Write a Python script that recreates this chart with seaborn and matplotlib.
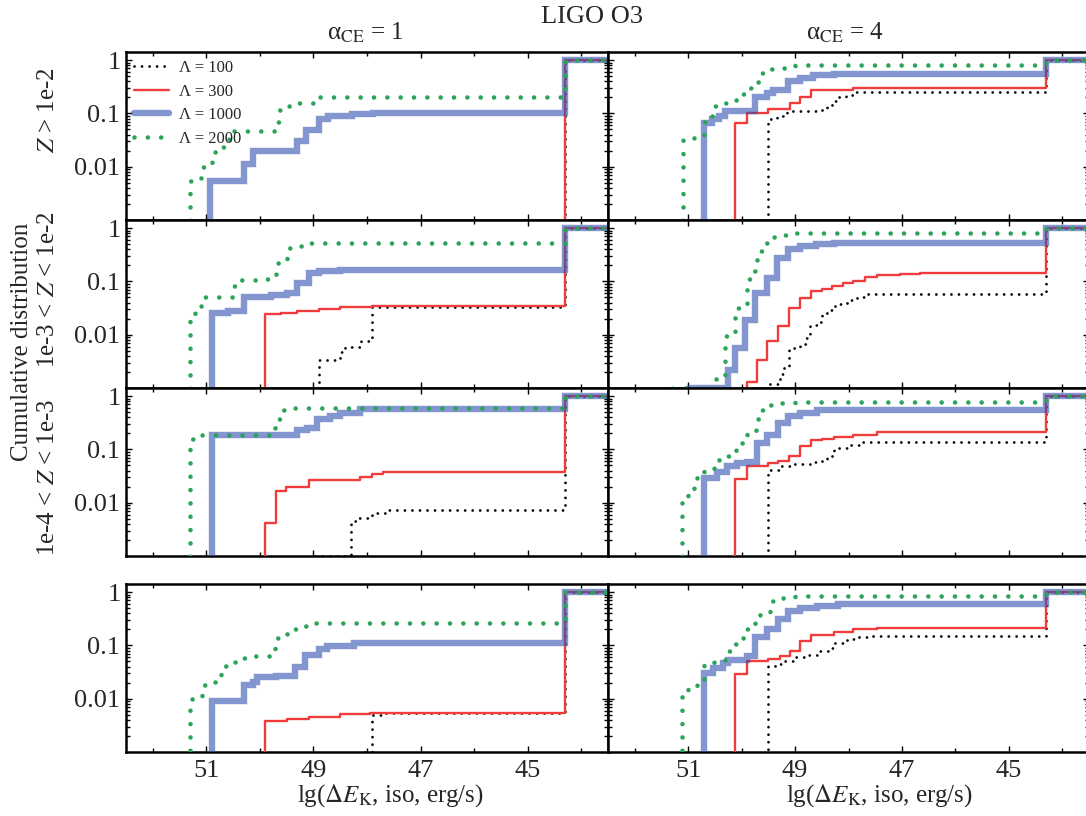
import numpy as np
import matplotlib
matplotlib.use("Agg")
import matplotlib.pyplot as plt
from matplotlib.ticker import LogLocator, NullFormatter
import seaborn as sns

# ---------------- data (step thresholds in lg dE and cumulative values) -------------
lambdas = [100, 300, 1000, 2000]
legend_labels = ["Λ = 100", "Λ = 300", "Λ = 1000", "Λ = 2000"]
col_titles = [r"α$_{\rm CE}$ = 1", r"α$_{\rm CE}$ = 4"]
row_labels = [r"$Z$ > 1e-2", r"1e-3 < $Z$ < 1e-2", r"1e-4 < $Z$ < 1e-3", ""]
xtick_vals = [51, 49, 47, 45]
ytick_vals = [0.01, 0.1, 1]
ytick_text = ["0.01", "0.1", "1"]

# Row 1 : Z > 1e-2
a1_z1_L100_x = [44.30]
a1_z1_L100_y = [1.0]
a1_z1_L300_x = [44.30]
a1_z1_L300_y = [1.0]
a1_z1_L1000_x = [50.93, 50.30, 50.12, 49.31, 49.13, 48.90, 48.72, 48.28, 47.88, 44.30]
a1_z1_L1000_y = [0.0055, 0.0112, 0.020, 0.030, 0.049, 0.078, 0.090, 0.099, 0.104, 1.0]
a1_z1_L2000_x = [51.31, 51.10, 50.90, 50.72, 50.58, 49.72, 49.65, 49.50, 49.30, 48.95, 44.30]
a1_z1_L2000_y = [0.0055, 0.010, 0.019, 0.023, 0.046, 0.070, 0.115, 0.135, 0.160, 0.200, 1.0]

a4_z1_L100_x = [49.50, 49.34, 49.16, 48.60, 48.41, 48.30, 48.20, 48.05, 47.88, 44.30]
a4_z1_L100_y = [0.078, 0.090, 0.110, 0.118, 0.130, 0.170, 0.205, 0.225, 0.253, 1.0]
a4_z1_L300_x = [50.12, 49.90, 49.50, 49.09, 48.91, 48.71, 48.28, 47.91, 44.30]
a4_z1_L300_y = [0.065, 0.103, 0.120, 0.160, 0.200, 0.270, 0.280, 0.300, 1.0]
a4_z1_L1000_x = [50.70, 50.56, 50.43, 50.31, 49.75, 49.53, 49.41, 49.13, 48.91, 48.66, 48.28, 44.30]
a4_z1_L1000_y = [0.065, 0.078, 0.090, 0.110, 0.200, 0.245, 0.280, 0.400, 0.470, 0.525, 0.555, 1.0]
a4_z1_L2000_x = [51.10, 50.90, 50.71, 50.56, 50.51, 50.31, 50.10, 49.98, 49.90, 49.72, 49.64, 49.47, 49.25, 49.00, 44.30]
a4_z1_L2000_y = [0.035, 0.040, 0.070, 0.090, 0.138, 0.160, 0.177, 0.228, 0.300, 0.390, 0.580, 0.670, 0.720, 0.800, 1.0]

# Row 2 : 1e-3 < Z < 1e-2
a1_z2_L100_x = [48.90, 48.60, 48.50, 48.42, 48.12, 47.91, 44.30]
a1_z2_L100_y = [0.0034, 0.0037, 0.0048, 0.0060, 0.0075, 0.033, 1.0]
a1_z2_L300_x = [49.90, 49.60, 49.31, 48.90, 48.50, 47.91, 44.30]
a1_z2_L300_y = [0.0245, 0.026, 0.0274, 0.030, 0.033, 0.035, 1.0]
a1_z2_L1000_x = [50.89, 50.60, 50.30, 49.80, 49.50, 49.31, 49.09, 48.90, 48.50, 44.30]
a1_z2_L1000_y = [0.0253, 0.028, 0.052, 0.056, 0.060, 0.093, 0.146, 0.158, 0.164, 1.0]
a1_z2_L2000_x = [51.31, 51.22, 51.10, 51.04, 50.50, 50.38, 49.90, 49.70, 49.49, 49.30, 49.10, 44.30]
a1_z2_L2000_y = [0.0178, 0.0253, 0.034, 0.052, 0.082, 0.107, 0.113, 0.218, 0.420, 0.467, 0.530, 1.0]

a4_z2_L100_x = [49.50, 49.28, 49.23, 49.11, 48.91, 48.80, 48.72, 48.56, 48.50, 48.41, 48.25, 48.03, 47.85, 47.70, 44.30]
a4_z2_L100_y = [0.0012, 0.0018, 0.0024, 0.0056, 0.0068, 0.0087, 0.0154, 0.017, 0.0253, 0.029, 0.038, 0.045, 0.052, 0.058, 1.0]
a4_z2_L300_x = [49.90, 49.72, 49.53, 49.31, 49.11, 48.91, 48.71, 48.50, 48.31, 48.10, 47.91, 47.69, 47.47, 47.04, 46.66, 44.30]
a4_z2_L300_y = [0.0013, 0.0033, 0.0075, 0.0147, 0.0316, 0.049, 0.065, 0.071, 0.082, 0.095, 0.104, 0.120, 0.130, 0.138, 0.142, 1.0]
a4_z2_L1000_x = [50.96, 50.25, 50.12, 49.93, 49.75, 49.53, 49.34, 49.13, 48.91, 48.60, 48.28, 44.30]
a4_z2_L1000_y = [0.00102, 0.0022, 0.0056, 0.019, 0.060, 0.115, 0.270, 0.400, 0.460, 0.500, 0.530, 1.0]
a4_z2_L2000_x = [51.30, 50.51, 50.31, 50.12, 49.90, 49.81, 49.72, 49.60, 49.47, 49.25, 49.00, 44.30]
a4_z2_L2000_y = [0.00102, 0.0015, 0.0093, 0.032, 0.110, 0.160, 0.380, 0.530, 0.670, 0.740, 0.800, 1.0]

# Row 3 : 1e-4 < Z < 1e-3
a1_z3_L100_x = [49.09, 48.30, 48.19, 47.91, 47.63, 44.30]
a1_z3_L100_y = [0.00102, 0.0045, 0.0052, 0.0064, 0.0074, 1.0]
a1_z3_L300_x = [49.90, 49.69, 49.51, 49.09, 48.13, 47.91, 47.70, 44.30]
a1_z3_L300_y = [0.0041, 0.0163, 0.020, 0.027, 0.031, 0.034, 0.0385, 1.0]
a1_z3_L1000_x = [50.89, 49.31, 49.12, 48.93, 48.69, 48.50, 48.13, 44.30]
a1_z3_L1000_y = [0.190, 0.230, 0.250, 0.380, 0.420, 0.475, 0.565, 1.0]
a1_z3_L2000_x = [51.31, 51.11, 49.71, 49.62, 49.40, 44.30]
a1_z3_L2000_y = [0.160, 0.187, 0.380, 0.550, 0.600, 1.0]

a4_z3_L100_x = [49.50, 49.28, 49.09, 48.66, 48.50, 48.40, 48.28, 48.03, 47.72, 44.30]
a4_z3_L100_y = [0.041, 0.048, 0.053, 0.059, 0.066, 0.076, 0.105, 0.121, 0.138, 1.0]
a4_z3_L300_x = [50.12, 49.90, 49.50, 49.31, 49.11, 48.91, 48.71, 48.50, 48.28, 47.91, 47.47, 44.30]
a4_z3_L300_y = [0.028, 0.049, 0.055, 0.061, 0.076, 0.116, 0.150, 0.160, 0.174, 0.190, 0.210, 1.0]
a4_z3_L1000_x = [50.70, 50.46, 50.28, 50.09, 49.90, 49.72, 49.53, 49.31, 49.13, 48.91, 48.59, 44.30]
a4_z3_L1000_y = [0.029, 0.0385, 0.048, 0.055, 0.059, 0.130, 0.187, 0.310, 0.420, 0.475, 0.540, 1.0]
a4_z3_L2000_x = [51.12, 51.01, 50.90, 50.83, 50.70, 50.51, 50.43, 50.25, 50.10, 50.00, 49.90, 49.78, 49.73, 49.62, 49.47, 49.25, 49.00, 44.30]
a4_z3_L2000_y = [0.011, 0.0156, 0.021, 0.031, 0.040, 0.047, 0.066, 0.076, 0.100, 0.134, 0.195, 0.225, 0.380, 0.550, 0.680, 0.730, 0.780, 1.0]

# Row 4
a1_z4_L100_x = [48.10, 47.91, 47.65, 44.30]
a1_z4_L100_y = [0.00102, 0.0050, 0.0053, 1.0]
a1_z4_L300_x = [49.90, 49.50, 49.09, 48.50, 47.94, 44.30]
a1_z4_L300_y = [0.0038, 0.0042, 0.0046, 0.0052, 0.0055, 1.0]
a1_z4_L1000_x = [50.89, 50.30, 50.12, 50.05, 49.70, 49.34, 49.15, 48.90, 48.75, 48.25, 44.30]
a1_z4_L1000_y = [0.0089, 0.0178, 0.0205, 0.0254, 0.027, 0.039, 0.066, 0.086, 0.097, 0.112, 1.0]
a1_z4_L2000_x = [51.30, 51.08, 50.89, 50.73, 50.52, 50.33, 50.12, 49.71, 49.49, 49.22, 49.00, 44.30]
a1_z4_L2000_y = [0.0097, 0.0178, 0.0205, 0.041, 0.049, 0.057, 0.064, 0.136, 0.200, 0.230, 0.263, 1.0]

a4_z4_L100_x = [49.50, 49.37, 49.25, 49.03, 48.78, 48.53, 48.38, 48.28, 48.03, 47.85, 47.60, 44.30]
a4_z4_L100_y = [0.041, 0.045, 0.052, 0.060, 0.066, 0.077, 0.089, 0.111, 0.132, 0.146, 0.148, 1.0]
a4_z4_L300_x = [50.12, 49.90, 49.50, 49.28, 49.09, 48.91, 48.71, 48.28, 47.91, 47.47, 44.30]
a4_z4_L300_y = [0.029, 0.050, 0.056, 0.063, 0.080, 0.123, 0.157, 0.180, 0.200, 0.216, 1.0]
a4_z4_L1000_x = [50.70, 50.53, 50.34, 50.25, 49.90, 49.75, 49.53, 49.31, 49.13, 48.91, 48.59, 48.20, 44.30]
a4_z4_L1000_y = [0.0306, 0.0375, 0.047, 0.054, 0.063, 0.142, 0.200, 0.310, 0.450, 0.500, 0.555, 0.600, 1.0]
a4_z4_L2000_x = [51.12, 51.01, 50.84, 50.70, 50.51, 50.31, 50.12, 49.98, 49.92, 49.75, 49.65, 49.47, 49.25, 49.00, 44.30]
a4_z4_L2000_y = [0.0115, 0.0166, 0.0235, 0.042, 0.052, 0.080, 0.107, 0.136, 0.200, 0.310, 0.420, 0.690, 0.760, 0.830, 1.0]

X_MIN, X_MAX = 52.5, 43.5
Y_MIN, Y_MAX = 1e-3, 1.42

# ---------------- figure ----------------
sns.set_theme(style="ticks")
plt.rcParams["font.family"] = ["Liberation Serif", "DejaVu Serif"]
plt.rcParams["mathtext.fontset"] = "stix"

W, H = 1086, 816
fig = plt.figure(figsize=(W / 100, H / 100), dpi=100)

col_px = [(126, 482), (608, 481)]
row_top_px = [52, 220, 388, 584]
row_h_px = 168

styles = {
    100: dict(color="black", linewidth=2.0, linestyle=(0, (0.01, 2.7)), dash_capstyle="round", zorder=2),
    300: dict(color="#f03c3c", linewidth=1.7, zorder=3),
    1000: dict(color="#3050af", linewidth=4.6, alpha=0.6, solid_capstyle="round", solid_joinstyle="miter", zorder=4),
    2000: dict(color="#2ca35a", linewidth=3.3, linestyle=(0, (0.01, 2.9)), dash_capstyle="round", zorder=5),
}

panels = {
    (0, 0): [(a1_z1_L100_x, a1_z1_L100_y), (a1_z1_L300_x, a1_z1_L300_y), (a1_z1_L1000_x, a1_z1_L1000_y), (a1_z1_L2000_x, a1_z1_L2000_y)],
    (0, 1): [(a4_z1_L100_x, a4_z1_L100_y), (a4_z1_L300_x, a4_z1_L300_y), (a4_z1_L1000_x, a4_z1_L1000_y), (a4_z1_L2000_x, a4_z1_L2000_y)],
    (1, 0): [(a1_z2_L100_x, a1_z2_L100_y), (a1_z2_L300_x, a1_z2_L300_y), (a1_z2_L1000_x, a1_z2_L1000_y), (a1_z2_L2000_x, a1_z2_L2000_y)],
    (1, 1): [(a4_z2_L100_x, a4_z2_L100_y), (a4_z2_L300_x, a4_z2_L300_y), (a4_z2_L1000_x, a4_z2_L1000_y), (a4_z2_L2000_x, a4_z2_L2000_y)],
    (2, 0): [(a1_z3_L100_x, a1_z3_L100_y), (a1_z3_L300_x, a1_z3_L300_y), (a1_z3_L1000_x, a1_z3_L1000_y), (a1_z3_L2000_x, a1_z3_L2000_y)],
    (2, 1): [(a4_z3_L100_x, a4_z3_L100_y), (a4_z3_L300_x, a4_z3_L300_y), (a4_z3_L1000_x, a4_z3_L1000_y), (a4_z3_L2000_x, a4_z3_L2000_y)],
    (3, 0): [(a1_z4_L100_x, a1_z4_L100_y), (a1_z4_L300_x, a1_z4_L300_y), (a1_z4_L1000_x, a1_z4_L1000_y), (a1_z4_L2000_x, a1_z4_L2000_y)],
    (3, 1): [(a4_z4_L100_x, a4_z4_L100_y), (a4_z4_L300_x, a4_z4_L300_y), (a4_z4_L1000_x, a4_z4_L1000_y), (a4_z4_L2000_x, a4_z4_L2000_y)],
}

TICK_FS = 19
for (r, c), curves in panels.items():
    lpx, wpx = col_px[c]
    ax = fig.add_axes([lpx / W, 1 - (row_top_px[r] + row_h_px) / H, wpx / W, row_h_px / H])
    ax.set_yscale("log")
    for lam, lab, (xs, ys) in zip(lambdas, legend_labels, curves):
        X = np.array([xs[0]] + list(xs) + [X_MAX - 0.2])
        Y = np.array([1e-5] + list(ys) + [ys[-1]])
        kw = dict(styles[lam])
        if (r, c) == (0, 0):
            kw["label"] = lab
        sns.lineplot(x=X, y=Y, ax=ax, estimator=None, sort=False,
                     drawstyle="steps-post", legend=False, **kw)
    ax.set_xlim(X_MIN, X_MAX)
    ax.set_ylim(Y_MIN, Y_MAX)
    ax.set_xlabel("")
    ax.set_ylabel("")
    ax.set_xticks(xtick_vals)
    ax.set_xticks([52, 50, 48, 46, 44], minor=True)
    ax.set_yticks(ytick_vals)
    ax.yaxis.set_minor_locator(LogLocator(base=10, subs=np.arange(2, 10)))
    ax.yaxis.set_minor_formatter(NullFormatter())
    ax.xaxis.set_minor_formatter(NullFormatter())
    if c == 0:
        ax.set_yticklabels(ytick_text)
    else:
        ax.set_yticklabels([])
    if r == 3:
        ax.set_xticklabels([str(v) for v in xtick_vals])
    else:
        ax.set_xticklabels([])
    ax.tick_params(which="both", direction="in", top=True, right=True,
                   width=1.0, color="black", labelsize=TICK_FS)
    ax.tick_params(which="major", length=4.5)
    ax.tick_params(which="minor", length=2.8)
    ax.tick_params(axis="x", pad=6)
    ax.tick_params(axis="y", pad=4)
    for sp in ax.spines.values():
        sp.set_linewidth(1.8)
        sp.set_color("black")
        sp.set_visible(True)
    ax.set_facecolor("white")
    if (r, c) == (0, 0):
        ax.legend(loc="upper left", frameon=False, fontsize=12,
                  handlelength=2.1, handletextpad=0.6, labelspacing=0.45,
                  borderaxespad=0.15, borderpad=0.35)

BIG = 18
fig.text(592 / W, 1 - 17 / H, "LIGO O3", ha="center", va="center", fontsize=19)
fig.text(365 / W, 1 - 40 / H, col_titles[0], ha="center", va="baseline", fontsize=BIG)
fig.text(845 / W, 1 - 40 / H, col_titles[1], ha="center", va="baseline", fontsize=BIG)
xl = r"lg($\Delta E_{\rm K}$, iso, erg/s)"
fig.text(390 / W, 1 - 802 / H, xl, ha="center", va="baseline", fontsize=BIG)
fig.text(879 / W, 1 - 802 / H, xl, ha="center", va="baseline", fontsize=BIG)
row_label_y = [110, 290, 478]
for lab, yp in zip(row_labels[:3], row_label_y):
    fig.text(48 / W, 1 - yp / H, lab, rotation=90, ha="center", va="center", fontsize=BIG)
fig.text(22 / W, 1 - 342 / H, "Cumulative distribution", rotation=90,
         ha="center", va="center", fontsize=BIG)

fig.savefig("out.png", dpi=100)
